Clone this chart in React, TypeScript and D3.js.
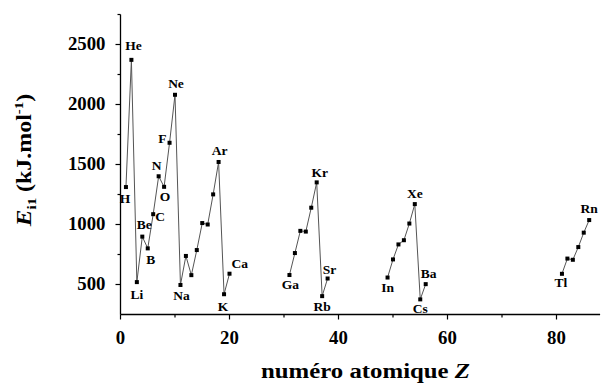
import React from "react";
import * as d3 from "d3";

// Atomic numbers, symbols and first ionization energies (kJ/mol), grouped by plotted segment
const segZ: number[][] = [
  [1, 2, 3, 4, 5, 6, 7, 8, 9, 10, 11, 12, 13, 14, 15, 16, 17, 18, 19, 20],
  [31, 32, 33, 34, 35, 36, 37, 38],
  [49, 50, 51, 52, 53, 54, 55, 56],
  [81, 82, 83, 84, 85, 86],
];
const segE: number[][] = [
  [1312, 2372, 520, 899, 801, 1086, 1402, 1314, 1681, 2081, 496, 738, 578, 787, 1012, 1000, 1251, 1521, 419, 590],
  [579, 762, 947, 941, 1140, 1351, 403, 550],
  [558, 709, 834, 869, 1008, 1170, 376, 503],
  [589, 716, 706, 812, 932, 1037],
];
const labelZ: number[] = [1, 2, 3, 4, 5, 6, 7, 8, 9, 10, 11, 18, 19, 20, 31, 36, 37, 38, 49, 54, 55, 56, 81, 86];
const labelText: string[] = ["H", "He", "Li", "Be", "B", "C", "N", "O", "F", "Ne", "Na", "Ar", "K", "Ca", "Ga", "Kr", "Rb", "Sr", "In", "Xe", "Cs", "Ba", "Tl", "Rn"];
const xTicks: number[] = [0, 20, 40, 60, 80];
const yTicks: number[] = [500, 1000, 1500, 2000, 2500];

// label placement (layout only): [dx, dy, anchor]
const labelPlace: Record<string, [number, number, string]> = {
  H: [-1, 16, "middle"], He: [2, -10, "middle"], Li: [0, 17, "middle"], Be: [2, -8, "middle"],
  B: [3, 16, "middle"], C: [2, 7, "start"], N: [-2, -6, "middle"], O: [1, 14, "middle"],
  F: [-3, 0, "end"], Ne: [1, -7, "middle"], Na: [1, 15, "middle"], Ar: [1, -7, "middle"],
  K: [-1, 17, "middle"], Ca: [2, -6, "start"], Ga: [1, 14, "middle"], Kr: [3, -5, "middle"],
  Rb: [0, 15, "middle"], Sr: [2, -5, "middle"], In: [0, 14, "middle"], Xe: [0, -6, "middle"],
  Cs: [0, 14, "middle"], Ba: [3, -6, "middle"], Tl: [-1, 13, "middle"], Rn: [0, -7, "middle"],
};

export default function App() {
  const W = 603, H = 383;
  const x = d3.scaleLinear().domain([0, 88]).range([120.5, 600.1]);
  const y = d3.scaleLinear().domain([250, 2750]).range([314.5, 14.5]);
  const line = d3.line<[number, number]>().x((d) => x(d[0])).y((d) => y(d[1]));
  const font = '"Liberation Serif", "DejaVu Serif", serif';
  const minorX = d3.range(10, 88, 20);
  const minorY = d3.range(750, 2751, 500);
  const energyOf = (z: number) => {
    for (let s = 0; s < segZ.length; s++) {
      const i = segZ[s].indexOf(z);
      if (i >= 0) return segE[s][i];
    }
    return 0;
  };
  const digitW = 9.4;
  return (
    <svg width={W} height={H} style={{ position: "absolute", left: 0, top: 0, background: "#fff", fontFamily: font }}>
      <rect width={W} height={H} fill="#fff" />
      {/* axes */}
      <line x1={x(0)} x2={x(0)} y1={y(250)} y2={y(2750)} stroke="#000" strokeWidth={1.3} />
      <line x1={x(0)} x2={x(88)} y1={y(250)} y2={y(250)} stroke="#000" strokeWidth={1.3} />
      {yTicks.map((t) => (
        <g key={"yt" + t}>
          <line x1={x(0) - 5} x2={x(0)} y1={y(t)} y2={y(t)} stroke="#000" strokeWidth={1.2} />
          <text x={x(0) - 15} y={y(t) + 5} textAnchor="end" textLength={String(t).length * digitW} lengthAdjust="spacingAndGlyphs" style={{ fontFamily: font, fontSize: 18, fontWeight: "bold" }}>{t}</text>
        </g>
      ))}
      {minorY.map((t) => (
        <line key={"ym" + t} x1={x(0) - 3} x2={x(0)} y1={y(t)} y2={y(t)} stroke="#000" strokeWidth={1.2} />
      ))}
      {xTicks.map((t) => (
        <g key={"xt" + t}>
          <line x1={x(t)} x2={x(t)} y1={y(250)} y2={y(250) + 5} stroke="#000" strokeWidth={1.2} />
          <text x={x(t)} y={y(250) + 29.5} textAnchor="middle" textLength={String(t).length * digitW} lengthAdjust="spacingAndGlyphs" style={{ fontFamily: font, fontSize: 18, fontWeight: "bold" }}>{t}</text>
        </g>
      ))}
      {minorX.map((t) => (
        <line key={"xm" + t} x1={x(t)} x2={x(t)} y1={y(250)} y2={y(250) + 3} stroke="#000" strokeWidth={1.2} />
      ))}
      {/* lines */}
      {segZ.map((zs, s) => (
        <path key={"l" + s} d={line(zs.map((z, i) => [z, segE[s][i]]) as [number, number][]) || ""} fill="none" stroke="#555" strokeWidth={1} />
      ))}
      {/* markers */}
      {segZ.map((zs, s) =>
        zs.map((z, i) => (
          <rect key={"m" + z} x={x(z) - 2} y={y(segE[s][i]) - 2} width={4} height={4} fill="#000" />
        ))
      )}
      {/* element labels */}
      {labelZ.map((z, i) => {
        const t = labelText[i];
        const p = labelPlace[t];
        return (
          <text key={"lab" + t} x={x(z) + p[0]} y={y(energyOf(z)) + p[1]} textAnchor={p[2] as any} style={{ fontFamily: font, fontSize: 13.5, fontWeight: "bold" }}>{t}</text>
        );
      })}
      {/* axis titles */}
      <text x={261} y={377.5} textAnchor="start" textLength={209} lengthAdjust="spacingAndGlyphs" style={{ fontFamily: font, fontSize: 20.5, fontWeight: "bold" }}>
        numéro atomique <tspan style={{ fontStyle: "italic" }}>Z</tspan>
      </text>
      <text transform="translate(31,160) rotate(-90) scale(1.14,1)" textAnchor="middle" style={{ fontFamily: font, fontSize: 21, fontWeight: "bold" }}>
        <tspan style={{ fontStyle: "italic", fontSize: 22 }}>E</tspan>
        <tspan style={{ fontSize: 13 }} dy={5}>i1</tspan>
        <tspan dy={-5}>{" (kJ.mol"}</tspan>
        <tspan style={{ fontSize: 13 }} dy={-8}>-1</tspan>
        <tspan dy={8}>)</tspan>
      </text>
    </svg>
  );
}
